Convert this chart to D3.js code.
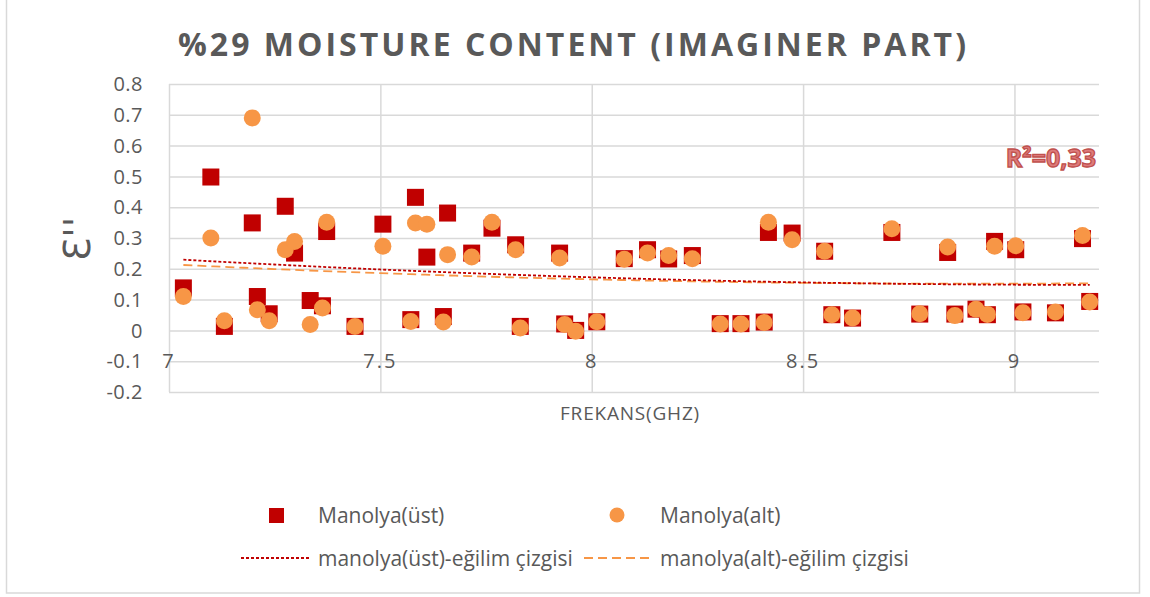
<!DOCTYPE html>
<html>
<head>
<meta charset="utf-8">
<script src="https://cdn.jsdelivr.net/npm/d3@7"></script>
<style>
  body { margin: 0; background: #fff; }
  svg { display: block; font-family: "Open Sans", "Noto Sans", sans-serif; }
</style>
</head>
<body>
<div id="chart"></div>
<script>
// 1. DATOS
const freq = [7.034, 7.099, 7.131, 7.197, 7.209, 7.237, 7.275, 7.297, 7.334, 7.363,
              7.373, 7.44, 7.506, 7.572, 7.583, 7.61, 7.649, 7.659, 7.716, 7.764,
              7.82, 7.831, 7.924, 7.936, 7.962, 8.012, 8.077, 8.132, 8.182, 8.238,
              8.304, 8.353, 8.408, 8.418, 8.474, 8.551, 8.568, 8.617, 8.71, 8.776,
              8.842, 8.859, 8.909, 8.936, 8.953, 9.003, 9.02, 9.097, 9.161, 9.178];

const ust = [0.138, 0.498, 0.013, 0.349, 0.11, 0.054, 0.403, 0.251, 0.097, 0.08,
             0.321, 0.013, 0.345, 0.035, 0.432, 0.238, 0.045, 0.381, 0.251, 0.332,
             0.278, 0.013, 0.251, 0.021, 0.0, 0.028, 0.233, 0.262, 0.232, 0.243,
             0.022, 0.022, 0.027, 0.318, 0.316, 0.257, 0.051, 0.04, 0.318, 0.053,
             0.253, 0.053, 0.069, 0.051, 0.289, 0.262, 0.06, 0.057, 0.298, 0.094];

const alt = [0.11, 0.3, 0.031, 0.69, 0.067, 0.031, 0.262, 0.289, 0.019, 0.073,
             0.351, 0.013, 0.273, 0.029, 0.349, 0.345, 0.027, 0.246, 0.238, 0.351,
             0.262, 0.008, 0.235, 0.019, -0.003, 0.028, 0.231, 0.251, 0.243, 0.233,
             0.021, 0.021, 0.026, 0.351, 0.294, 0.257, 0.051, 0.04, 0.33, 0.054,
             0.271, 0.048, 0.069, 0.052, 0.273, 0.275, 0.057, 0.06, 0.308, 0.092];

const xTicks = [7, 7.5, 8, 8.5, 9];
const yTicks = [-0.2, -0.1, 0, 0.1, 0.2, 0.3, 0.4, 0.5, 0.6, 0.7, 0.8];

const title = "%29 MOISTURE CONTENT (IMAGINER PART)";
const seriesNames = ["Manolya(üst)", "Manolya(alt)"];
const trendNames = ["manolya(üst)-eğilim çizgisi", "manolya(alt)-eğilim çizgisi"];
const r2Label = "R²=0,33";

const width = 1150;
const height = 597;
const gray = "#595959";
const grid = "#d9d9d9";
const red = "#c00000";
const orange = "#f79646";

// 2. LIENZO
const svg = d3.select("#chart").append("svg")
    .attr("width", width)
    .attr("height", height);

svg.append("rect")
    .attr("x", 6.5).attr("y", -1)
    .attr("width", 1133).attr("height", 594)
    .attr("fill", "#fff")
    .attr("stroke", grid)
    .attr("stroke-width", 1.5);

const x = d3.scaleLinear().domain([7, 9.2]).range([169, 1099]);
const y = d3.scaleLinear().domain([-0.2, 0.8]).range([392, 84]);

// rejilla horizontal
svg.append("g")
    .attr("transform", "translate(169,0)")
    .call(d3.axisLeft(y).tickValues(yTicks).tickSize(-(1099 - 169)).tickFormat(""))
    .call(g => g.select(".domain").remove())
    .call(g => g.selectAll("line").attr("stroke", grid).attr("stroke-width", 1.5));

// rejilla vertical
svg.append("g")
    .attr("transform", "translate(0,392)")
    .call(d3.axisBottom(x).tickValues(xTicks).tickSize(-(392 - 84)).tickFormat(""))
    .call(g => g.select(".domain").remove())
    .call(g => g.selectAll("line").attr("stroke", grid).attr("stroke-width", 1.5));

// etiquetas eje Y
svg.append("g").selectAll("text").data(yTicks).join("text")
    .attr("x", 143)
    .attr("y", d => y(d))
    .attr("dy", "0.36em")
    .attr("text-anchor", "end")
    .attr("fill", gray)
    .style("font-size", "20px")
    .style("letter-spacing", "0.5px")
    .text(d => String(+d.toFixed(1)));

// etiquetas eje X (Excel las pone a la altura de -0.1)
svg.append("g").selectAll("text").data(xTicks).join("text")
    .attr("x", d => x(d))
    .attr("y", y(-0.1))
    .attr("dy", "0.36em")
    .attr("text-anchor", "middle")
    .attr("fill", gray)
    .style("font-size", "20px")
    .style("letter-spacing", "2px")
    .text(d => String(d));

// títulos
svg.append("text")
    .attr("x", 572).attr("y", 56)
    .attr("text-anchor", "middle")
    .attr("fill", gray)
    .attr("textLength", 788)
    .attr("lengthAdjust", "spacing")
    .style("font-size", "32px")
    .style("font-weight", "bold")
    .text(title);

svg.append("text")
    .attr("x", 630).attr("y", 420)
    .attr("text-anchor", "middle")
    .attr("fill", gray)
    .style("font-size", "19px")
    .style("letter-spacing", "0.8px")
    .text("FREKANS(GHZ)");

svg.append("text")
    .attr("transform", "translate(90,239) rotate(-90)")
    .attr("text-anchor", "middle")
    .attr("fill", gray)
    .style("font-family", "'DejaVu Sans', sans-serif")
    .style("font-size", "38px")
    .text("Ɛ''");

// 3. PUNTOS
const sq = 17;
svg.append("g").selectAll("rect").data(freq).join("rect")
    .attr("x", (d, i) => x(d) - sq / 2)
    .attr("y", (d, i) => y(ust[i]) - sq / 2)
    .attr("width", sq).attr("height", sq)
    .attr("fill", red);

svg.append("g").selectAll("circle").data(freq).join("circle")
    .attr("cx", d => x(d))
    .attr("cy", (d, i) => y(alt[i]))
    .attr("r", 8.5)
    .attr("fill", orange);

// 4. LÍNEAS DE TENDENCIA (polinómica de orden 2, mínimos cuadrados)
function polyFit(xs, ys) {
    const m = d3.mean(xs);
    let s = [0, 0, 0, 0, 0], t = [0, 0, 0];
    xs.forEach((xv, i) => {
        const u = xv - m;
        for (let k = 0; k < 5; k++) s[k] += Math.pow(u, k);
        for (let k = 0; k < 3; k++) t[k] += ys[i] * Math.pow(u, k);
    });
    // resolver 3x3 (Cramer)
    const A = [[s[0], s[1], s[2]], [s[1], s[2], s[3]], [s[2], s[3], s[4]]];
    const det = M => M[0][0] * (M[1][1] * M[2][2] - M[1][2] * M[2][1])
                   - M[0][1] * (M[1][0] * M[2][2] - M[1][2] * M[2][0])
                   + M[0][2] * (M[1][0] * M[2][1] - M[1][1] * M[2][0]);
    const D = det(A);
    const c = [0, 1, 2].map(j => det(A.map((row, r) => row.map((v, k) => k === j ? t[r] : v))) / D);
    return xv => c[0] + c[1] * (xv - m) + c[2] * (xv - m) * (xv - m);
}

const xs = d3.range(0, 61).map(i => d3.min(freq) + (d3.max(freq) - d3.min(freq)) * i / 60);
const line = d3.line().x(d => x(d[0])).y(d => y(d[1]));

const fitUst = polyFit(freq, ust);
const fitAlt = polyFit(freq, alt);

svg.append("path")
    .attr("d", line(xs.map(v => [v, fitAlt(v)])))
    .attr("fill", "none")
    .attr("stroke", orange)
    .attr("stroke-width", 1.8)
    .attr("stroke-dasharray", "9,5");

svg.append("path")
    .attr("d", line(xs.map(v => [v, fitUst(v)])))
    .attr("fill", "none")
    .attr("stroke", red)
    .attr("stroke-width", 1.8)
    .attr("stroke-dasharray", "3,2");

svg.append("text")
    .attr("x", 1096).attr("y", 167)
    .attr("text-anchor", "end")
    .attr("fill", "#dd7b7b")
    .attr("stroke", "#c0504d")
    .attr("stroke-width", 1.3)
    .style("font-size", "25px")
    .style("font-weight", "bold")
    .text(r2Label);

// 5. LEYENDA
const leg = svg.append("g").attr("fill", gray).style("font-size", "21px");

leg.append("rect").attr("x", 269).attr("y", 508).attr("width", 15).attr("height", 15).attr("fill", red);
leg.append("text").attr("x", 318).attr("y", 515).attr("dy", "0.36em").text(seriesNames[0]);
leg.append("circle").attr("cx", 617).attr("cy", 515).attr("r", 7.5).attr("fill", orange);
leg.append("text").attr("x", 660).attr("y", 515).attr("dy", "0.36em").text(seriesNames[1]);

leg.append("line").attr("x1", 241).attr("x2", 309).attr("y1", 558).attr("y2", 558)
    .attr("stroke", red).attr("stroke-width", 1.8).attr("stroke-dasharray", "3,2");
leg.append("text").attr("x", 318).attr("y", 558).attr("dy", "0.36em").text(trendNames[0]);
leg.append("line").attr("x1", 584).attr("x2", 652).attr("y1", 558).attr("y2", 558)
    .attr("stroke", orange).attr("stroke-width", 1.8).attr("stroke-dasharray", "9,5");
leg.append("text").attr("x", 660).attr("y", 558).attr("dy", "0.36em").text(trendNames[1]);
</script>
</body>
</html>
